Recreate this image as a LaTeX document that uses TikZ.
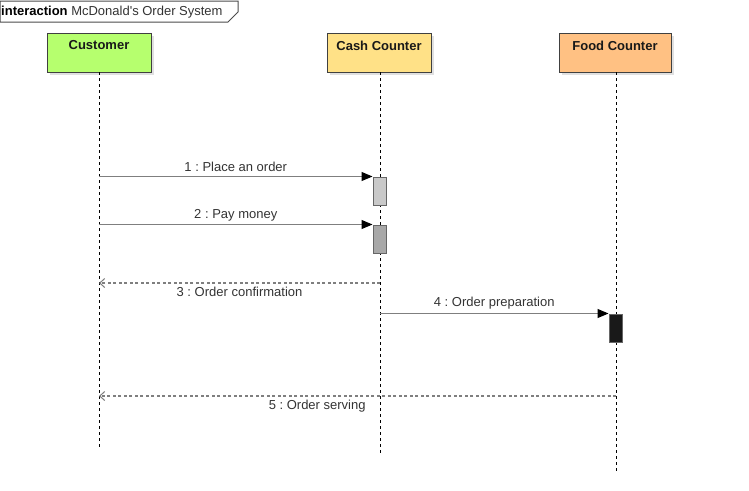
\documentclass[tikz,border=0pt]{standalone}
\usepackage{fontspec}
\setmainfont{Liberation Sans}
\usetikzlibrary{arrows.meta,shadows}
\frenchspacing
\definecolor{custgreen}{HTML}{B6FF6E}
\definecolor{cashyellow}{HTML}{FFE187}
\definecolor{foodorange}{HTML}{FFC183}
\definecolor{linegray}{HTML}{7F7F7F}
\definecolor{txtgray}{HTML}{333333}
\tikzset{
  obj/.style={draw=black!75, line width=0.9pt, minimum width=104pt, minimum height=39pt, inner sep=0pt,
    drop shadow={shadow xshift=3pt, shadow yshift=-3pt, opacity=0.12, fill=black}},
  objlabel/.style={font=\fontsize{13pt}{15pt}\selectfont\bfseries, text=black!90, anchor=north, yshift=-4.5pt},
  life/.style={draw=black, line width=0.9pt, dash pattern=on 3pt off 3pt},
  act/.style={draw=black!60, line width=1pt, minimum width=13pt, minimum height=28pt, inner sep=0pt},
  msg/.style={draw=linegray, line width=1.1pt, -{Triangle[length=11pt,width=9pt,black]}},
  ret/.style={draw=linegray, line width=1.1pt, dash pattern=on 3pt off 2.5pt, -{Straight Barb[length=5pt,width=9pt,linegray,line width=1pt]}},
  mlabel/.style={font=\fontsize{13pt}{15pt}\selectfont, text=txtgray, inner sep=4pt}
}
\begin{document}
\begin{tikzpicture}[x=1pt,y=-1pt]
\useasboundingbox (0,0) rectangle (749,490);
% frame tab
\draw[draw=black!70, line width=1pt, fill=white] (0,22) -- (0,1) -- (238,1) -- (238,12) -- (228,22) -- cycle;
\node[anchor=west, inner sep=0pt, font=\fontsize{13pt}{15pt}\selectfont, text=txtgray] (title) at (1,12) {\textbf{\color{black}interaction} McDonald\textquotesingle s Order System};
% objects
\node[obj, fill=custgreen, label={[objlabel]north:Customer}] (cust) at (99,52.5) {};
\node[obj, fill=cashyellow, label={[objlabel]north:Cash Counter}] (cash) at (379,52.5) {};
\node[obj, fill=foodorange, minimum width=112pt, label={[objlabel]north:Food Counter}] (food) at (615,52.5) {};
% lifeline ends
\coordinate (custEnd) at (99,447);
\coordinate (cashEnd) at (380,453);
\coordinate (foodEnd) at (616,471);
\draw[life] (cust.south -| custEnd) -- (custEnd);
\draw[life] (cash.south -| cashEnd) -- (cashEnd);
\draw[life] (food.south -| foodEnd) -- (foodEnd);
% activations
\node[act, fill=black!21] (a1) at (379.5,191) {};
\node[act, fill=black!34] (a2) at (379.5,239) {};
\node[act, fill=black!90] (a4) at (615.5,328) {};
% message anchors on lifelines
\coordinate (c1) at (custEnd |- a1.north);
\coordinate (c2) at (custEnd |- a2.north);
\coordinate (c3) at (99,283);
\coordinate (k3) at (380,283);
\coordinate (k4) at (cashEnd |- a4.north);
\coordinate (c5) at (99,396);
\coordinate (f5) at (616,396);
% messages
\draw[msg] (c1) -- node[mlabel, midway, above] {1 : Place an order} (a1.north west);
\draw[msg] (c2) -- node[mlabel, midway, above, yshift=-1.5pt] {2 : Pay money} (a2.north west);
\draw[ret] (k3) -- node[mlabel, midway, below] {3 : Order confirmation} (c3);
\draw[msg] (k4) -- node[mlabel, midway, above] {4 : Order preparation} (a4.north west);
\draw[ret] (f5) -- node[mlabel, pos=0.578, below] {5 : Order serving} (c5);
\end{tikzpicture}
\end{document}
